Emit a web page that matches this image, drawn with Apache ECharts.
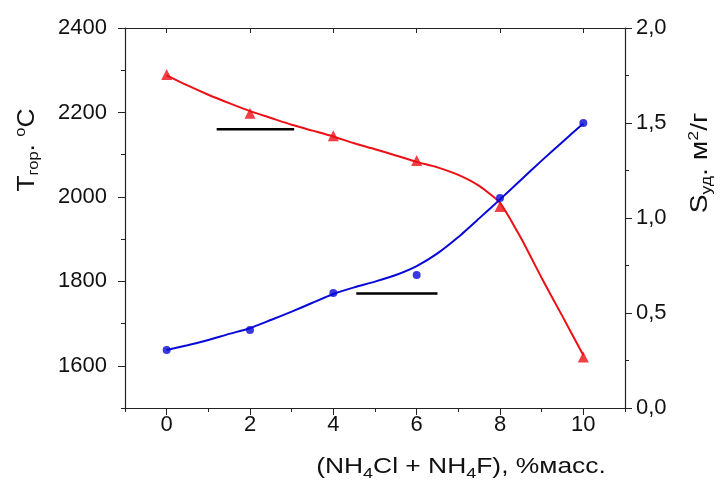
<!DOCTYPE html>
<html><head><meta charset="utf-8">
<script src="https://cdn.jsdelivr.net/npm/echarts@6/dist/echarts.min.js"></script>
<style>html,body{margin:0;padding:0;background:#fff}#c{width:723px;height:484px}</style>
</head><body><div id="c"></div>
<script>
// Measured points
const xPts = [0, 2, 4, 6, 8, 10];
const tPts = [2290, 2198, 2145, 2086, 1977, 1621];      // Tгор, °C (left axis)
const sPts = [0.305, 0.41, 0.605, 0.70, 1.105, 1.5];    // Sуд, м2/г (right axis)
// Fitted curves (every 0.5)
const xFit = [0, 0.5, 1, 1.5, 2, 2.5, 3, 3.5, 4, 4.5, 5, 5.5, 6, 6.5, 7, 7.5, 8, 8.5, 9, 9.5, 10];
const tFit = [2288, 2264, 2242, 2222, 2203, 2187, 2171, 2157, 2143, 2127, 2113, 2098, 2083, 2070, 2052, 2026, 1986, 1903, 1808, 1717, 1625];
const sFit = [0.305, 0.33, 0.358, 0.39, 0.42, 0.463, 0.507, 0.554, 0.60, 0.635, 0.665, 0.70, 0.747, 0.814, 0.90, 0.998, 1.098, 1.20, 1.302, 1.40, 1.498];
// Axis-pointer marks
const markT = [[1.2, 2160], [3.06, 2160]];
const markS = [[4.55, 0.603], [6.5, 0.603]];
const xMajor = [0, 2, 4, 6, 8, 10];
const tMajor = [1600, 1800, 2000, 2200, 2400];

const FONT = 'Liberation Sans, Arial, sans-serif';
const RED = '#ec1016', BLUE = '#0808d8', AX = '#222';
const pair = (xs, ys) => xs.map((x, i) => [x, ys[i]]);

const chart = echarts.init(document.getElementById('c'), null, {renderer: 'canvas'});
const baseAxisLine = {show: true, onZero: false, lineStyle: {color: AX, width: 1.2}};
const noLine = {show: false, onZero: false};
chart.setOption({
  animation: false,
  grid: {left: 125, right: 98, top: 28, bottom: 76, containLabel: false},
  xAxis: [
    {type: 'value', position: 'bottom', min: -1, max: 11, interval: 1,
     axisLine: baseAxisLine, axisTick: {show: true, length: 4, lineStyle: {color: AX}},
     splitLine: {show: false},
     axisLabel: {margin: 6, fontFamily: FONT, fontSize: 22, color: '#111',
       formatter: v => (v % 2 === 0 && v >= 0 && v <= 10) ? String(v) : ''}},
    {type: 'value', position: 'bottom', min: -1, max: 11,
     axisLine: noLine, splitLine: {show: false}, axisLabel: {show: false},
     axisTick: {show: true, length: 7, customValues: xMajor, lineStyle: {color: AX}}},
    {type: 'value', position: 'top', min: -1, max: 11,
     axisLine: baseAxisLine, splitLine: {show: false}, axisLabel: {show: false},
     axisTick: {show: true, inside: true, length: 5, customValues: xMajor, lineStyle: {color: AX}}}
  ],
  yAxis: [
    {type: 'value', position: 'left', min: 1500, max: 2400, interval: 100,
     axisLine: baseAxisLine, axisTick: {show: true, length: 4, lineStyle: {color: AX}},
     splitLine: {show: false},
     axisLabel: {margin: 18, fontFamily: FONT, fontSize: 22, color: '#111',
       formatter: v => (v % 200 === 0) ? String(v) : ''}},
    {type: 'value', position: 'left', min: 1500, max: 2400,
     axisLine: noLine, splitLine: {show: false}, axisLabel: {show: false},
     axisTick: {show: true, length: 7, customValues: tMajor, lineStyle: {color: AX}}},
    {type: 'value', position: 'right', min: 0, max: 2, interval: 0.5,
     axisLine: baseAxisLine, axisTick: {show: true, length: 7, lineStyle: {color: AX}},
     minorTick: {show: true, splitNumber: 2, length: 4, lineStyle: {color: AX}},
     splitLine: {show: false},
     axisLabel: {margin: 11, fontFamily: FONT, fontSize: 22, color: '#111',
       formatter: v => v.toFixed(1).replace('.', ',')}}
  ],
  series: [
    {type: 'line', xAxisIndex: 0, yAxisIndex: 0, data: pair(xFit, tFit), smooth: 0.2,
     showSymbol: false, lineStyle: {color: RED, width: 2}, z: 2},
    {type: 'scatter', xAxisIndex: 0, yAxisIndex: 0, data: pair(xPts, tPts),
     symbol: 'triangle', symbolSize: 11, itemStyle: {color: RED}, z: 3},
    {type: 'line', xAxisIndex: 0, yAxisIndex: 2, data: pair(xFit, sFit), smooth: 0.2,
     showSymbol: false, lineStyle: {color: BLUE, width: 2}, z: 2},
    {type: 'scatter', xAxisIndex: 0, yAxisIndex: 2, data: pair(xPts, sPts),
     symbol: 'circle', symbolSize: 8, itemStyle: {color: BLUE}, z: 3},
    {type: 'line', xAxisIndex: 0, yAxisIndex: 0, data: markT, showSymbol: false,
     lineStyle: {color: '#000', width: 2.5}, z: 4},
    {type: 'line', xAxisIndex: 0, yAxisIndex: 2, data: markS, showSymbol: false,
     lineStyle: {color: '#000', width: 2.5}, z: 4}
  ],
  graphic: [
    {type: 'text', x: 27, y: 150, rotation: Math.PI / 2, scaleX: 1.1,
     style: {text: '{a|T}{s|гор}{a|. }{p|o}{a|C}', align: 'center', verticalAlign: 'middle',
       rich: {a: {fontFamily: FONT, fontSize: 24, fill: '#111'},
              s: {fontFamily: FONT, fontSize: 15, fill: '#111', padding: [13, 0, 0, 0]},
              p: {fontFamily: FONT, fontSize: 15, fill: '#111', padding: [0, 0, 13, 0]}}}},
    {type: 'text', x: 700, y: 163, rotation: Math.PI / 2, scaleX: 1.18,
     style: {text: '{a|S}{s|уд}{a|. м}{p|2}{a|/г}', align: 'center', verticalAlign: 'middle',
       rich: {a: {fontFamily: FONT, fontSize: 24, fill: '#111'},
              s: {fontFamily: FONT, fontSize: 15, fill: '#111', padding: [13, 0, 0, 0]},
              p: {fontFamily: FONT, fontSize: 15, fill: '#111', padding: [0, 0, 13, 0]}}}},
    {type: 'text', x: 461, y: 467, scaleX: 1.2,
     style: {text: '{a|(NH}{s|4}{a|Cl + NH}{s|4}{a|F), %масс.}', align: 'center', verticalAlign: 'middle',
       rich: {a: {fontFamily: FONT, fontSize: 22, fill: '#111'},
              s: {fontFamily: FONT, fontSize: 15, fill: '#111', padding: [13, 0, 0, 0]}}}}
  ]
});
</script></body></html>
